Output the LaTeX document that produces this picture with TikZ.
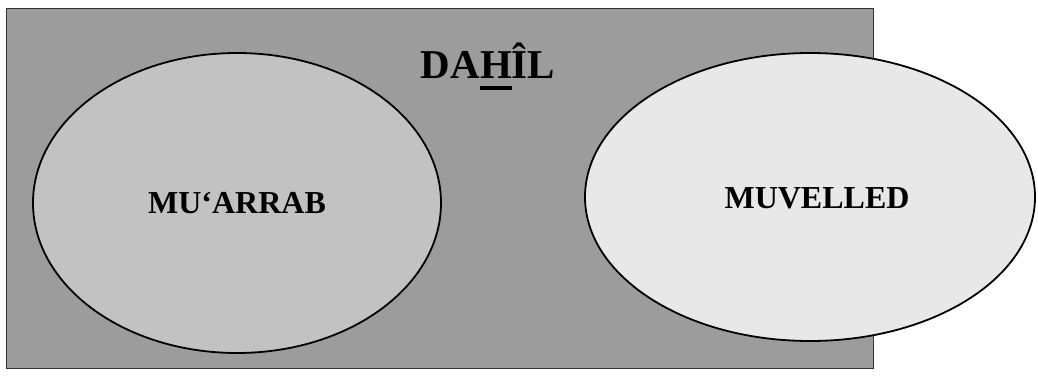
\documentclass[tikz,border=0pt]{standalone}
\usepackage{fontspec}
\setmainfont{Liberation Serif}
\usetikzlibrary{shapes.geometric}
\definecolor{rectgray}{HTML}{9C9C9C}
\definecolor{leftgray}{HTML}{C2C2C2}
\definecolor{rightgray}{HTML}{E8E8E8}
\tikzset{
  setbox/.style={draw=black!80, line width=1pt, fill=rectgray},
  setellipse/.style={ellipse, draw=black, line width=1.8pt, inner sep=0pt, outer sep=0pt},
  setlabel/.style={font=\bfseries\fontsize{32}{36}\selectfont, inner sep=0pt, anchor=center},
}
\begin{document}
\begin{tikzpicture}[x=1pt,y=1pt]
\useasboundingbox (0,0) rectangle (1038,376);
\draw[setbox] (6,8) rectangle (873,368);
\node[font=\bfseries\fontsize{41}{45}\selectfont, inner sep=0pt, anchor=base] (dahil) at (488,298)
  {DA{\setbox0\hbox{H}\rlap{\rule[-12pt]{\wd0}{4pt}}H}ÎL};
\node[setellipse, fill=leftgray, minimum width=408pt, minimum height=300pt] (muarrabset) at (237,173) {};
\node[setellipse, fill=rightgray, minimum width=450pt, minimum height=288pt] (muvelledset) at (810,179) {};
\node[setlabel] (muarrab) at (237,172.5) {MU‘ARRAB};
\node[setlabel] (muvelled) at (817,178) {MUVELLED};
\end{tikzpicture}
\end{document}
